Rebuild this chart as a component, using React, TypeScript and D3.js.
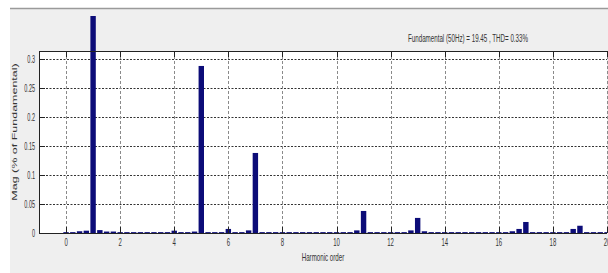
import * as d3 from 'd3';

// harmonic spectrum, 0.25 resolution, values in % of fundamental
const harmonicOrder = [
  0, 0.25, 0.5, 0.75,
  1, 1.25, 1.5, 1.75,
  2, 2.25, 2.5, 2.75,
  3, 3.25, 3.5, 3.75,
  4, 4.25, 4.5, 4.75,
  5, 5.25, 5.5, 5.75,
  6, 6.25, 6.5, 6.75,
  7, 7.25, 7.5, 7.75,
  8, 8.25, 8.5, 8.75,
  9, 9.25, 9.5, 9.75,
  10, 10.25, 10.5, 10.75,
  11, 11.25, 11.5, 11.75,
  12, 12.25, 12.5, 12.75,
  13, 13.25, 13.5, 13.75,
  14, 14.25, 14.5, 14.75,
  15, 15.25, 15.5, 15.75,
  16, 16.25, 16.5, 16.75,
  17, 17.25, 17.5, 17.75,
  18, 18.25, 18.5, 18.75,
  19, 19.25, 19.5, 19.75,
  20,
];
const magnitude = [
  0.0015, 0.0015, 0.003, 0.004,
  100, 0.005, 0.0025, 0.0025,
  0.0015, 0.0015, 0.0015, 0.0015,
  0.0015, 0.0015, 0.0015, 0.0015,
  0.004, 0.0015, 0.0015, 0.0025,
  0.288, 0.0015, 0.0015, 0.0015,
  0.007, 0.0015, 0.0015, 0.0045,
  0.138, 0.0015, 0.0015, 0.0015,
  0.0015, 0.0015, 0.0015, 0.0015,
  0.0015, 0.0015, 0.0015, 0.0015,
  0.0015, 0.0015, 0.0015, 0.0045,
  0.038, 0.0015, 0.0015, 0.0015,
  0.0015, 0.0015, 0.0015, 0.0045,
  0.026, 0.003, 0.0015, 0.0015,
  0.0015, 0.0015, 0.0015, 0.0015,
  0.0015, 0.0015, 0.0015, 0.0015,
  0.0015, 0.0015, 0.003, 0.007,
  0.019, 0.0015, 0.0015, 0.0015,
  0.0015, 0.0015, 0.0015, 0.007,
  0.0125, 0.0015, 0.0015, 0.0015,
  0.0015,
];
const xTicks = [0, 2, 4, 6, 8, 10, 12, 14, 16, 18, 20];
const yTicks = [0, 0.05, 0.1, 0.15, 0.2, 0.25, 0.3];
const yTickLabels = ['0', '0.05', '0.1', '0.15', '0.2', '0.25', '0.3'];
const title = 'Fundamental (50Hz) = 19.45 , THD= 0.33%';

const W = 608;
const H = 273;
const plot = { left: 39, right: 607, top: 51, bottom: 233 };
const font = '"Liberation Sans", Arial, sans-serif';

export default function App() {
  const x = d3.scaleLinear().domain([-1, 20]).range([plot.left, plot.right]);
  const y = d3.scaleLinear().domain([0, 0.3138]).range([plot.bottom, plot.top]);
  const barW = x(0.2) - x(0);
  const bars = harmonicOrder.map((h, i) => ({ h, v: magnitude[i] }));

  return (
    <svg width={W} height={H} style={{ position: 'absolute', left: 0, top: 0, background: '#fff' }}>
      <defs>
        <clipPath id="barclip">
          <rect x={plot.left} y={16} width={plot.right - plot.left} height={plot.bottom - 16} />
        </clipPath>
      </defs>
      {/* figure panel */}
      <rect x={10} y={8} width={W - 10} height={H - 8} fill="#efefef" />
      <line x1={10} x2={W} y1={8.5} y2={8.5} stroke="#9a9a9a" strokeWidth={1.5} />
      <rect x={plot.left} y={plot.top} width={plot.right - plot.left} height={plot.bottom - plot.top} fill="#fff" />

      {/* grid */}
      {yTicks.slice(1).map(t => (
        <line key={'gy' + t} x1={plot.left} x2={plot.right} y1={Math.round(y(t)) + 0.5} y2={Math.round(y(t)) + 0.5}
          stroke="#333" strokeWidth={1} strokeDasharray="2,1.5" />
      ))}
      {xTicks.map(t => (
        <line key={'gx' + t} x1={Math.round(x(t)) + 0.5} x2={Math.round(x(t)) + 0.5} y1={plot.top} y2={plot.bottom}
          stroke="#8a8a8a" strokeWidth={1} strokeDasharray="3,2" />
      ))}

      {/* bars */}
      <g clipPath="url(#barclip)">
        {bars.map(d => (
          <rect key={d.h} x={x(d.h) - barW / 2} width={barW}
            y={y(d.v)} height={plot.bottom - y(d.v)} fill="#0c0c78" />
        ))}
      </g>

      {/* axes box and ticks */}
      <line x1={plot.left} x2={plot.right} y1={plot.top + 0.5} y2={plot.top + 0.5} stroke="#222" />
      <line x1={plot.left} x2={plot.right} y1={plot.bottom + 0.5} y2={plot.bottom + 0.5} stroke="#222" />
      <line x1={plot.left + 0.5} x2={plot.left + 0.5} y1={plot.top} y2={plot.bottom + 1} stroke="#222" />
      {yTicks.map(t => (
        <line key={'ty' + t} x1={plot.left} x2={plot.left + 6} y1={Math.round(y(t)) + 0.5} y2={Math.round(y(t)) + 0.5} stroke="#222" />
      ))}
      {xTicks.map(t => (
        <g key={'tx' + t}>
          <line x1={Math.round(x(t)) + 0.5} x2={Math.round(x(t)) + 0.5} y1={plot.bottom} y2={plot.bottom - 6} stroke="#222" />
          <line x1={Math.round(x(t)) + 0.5} x2={Math.round(x(t)) + 0.5} y1={plot.top} y2={plot.top + 6} stroke="#222" />
        </g>
      ))}

      {/* tick labels */}
      <g fontFamily={font} fontSize={10} fill="#333">
        {yTicks.map((t, i) => (
          <text key={'ly' + t} transform={`translate(${plot.left - 4},${y(t) + 3.5}) scale(0.55,1)`} textAnchor="end">
            {yTickLabels[i]}
          </text>
        ))}
        {xTicks.map(t => (
          <text key={'lx' + t} transform={`translate(${x(t)},${plot.bottom + 13}) scale(0.6,1)`} textAnchor="middle">
            {t}
          </text>
        ))}
        <text transform={`translate(${(plot.left + plot.right) / 2},${plot.bottom + 28}) scale(0.62,1)`} textAnchor="middle">
          Harmonic order
        </text>
        <text transform={`translate(${17},${(plot.top + plot.bottom) / 2 - 10}) scale(0.6,1) rotate(-90)`}
          textAnchor="middle" fontSize={12.5}>
          Mag (% of Fundamental)
        </text>
        <text x={408} y={42} textLength={120} lengthAdjust="spacingAndGlyphs">
          {title}
        </text>
      </g>
    </svg>
  );
}
